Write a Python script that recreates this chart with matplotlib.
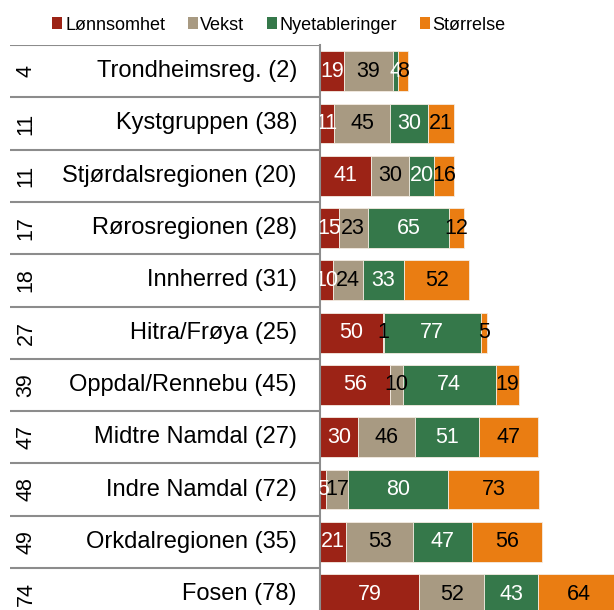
import matplotlib.pyplot as plt
from matplotlib.patches import Patch

regions = ['Trondheimsreg. (2)', 'Kystgruppen (38)', 'Stjørdalsregionen (20)',
           'Rørosregionen (28)', 'Innherred (31)', 'Hitra/Frøya (25)',
           'Oppdal/Rennebu (45)', 'Midtre Namdal (27)', 'Indre Namdal (72)',
           'Orkdalregionen (35)', 'Fosen (78)']
ranks = [4, 11, 11, 17, 18, 27, 39, 47, 48, 49, 74]
lonnsomhet = [19, 11, 41, 15, 10, 50, 56, 30, 5, 21, 79]
vekst = [39, 45, 30, 23, 24, 1, 10, 46, 17, 53, 52]
nyetableringer = [4, 30, 20, 65, 33, 77, 74, 51, 80, 47, 43]
storrelse = [8, 21, 16, 12, 52, 5, 19, 47, 73, 56, 64]

series = ['Lønnsomhet', 'Vekst', 'Nyetableringer', 'Størrelse']
colors = ['#9c2316', '#a89a82', '#35784a', '#ea7d12']
text_colors = ['white', 'black', 'white', 'black']

plt.rcParams['font.family'] = ['Liberation Sans', 'DejaVu Sans']

W, H = 614, 610
fig = plt.figure(figsize=(W / 100, H / 100), dpi=100)

# rows are 52.3 px tall, first row starts 45 px from the top
row_h = 52.3
top = 45
n = len(regions)
bottom = top + n * row_h
ax_bottom = 1 - bottom / H
ax_height = n * row_h / H

ax = fig.add_axes([320 / W, ax_bottom, (W - 320) / W, ax_height])
tab = fig.add_axes([10 / W, ax_bottom, 310 / W, ax_height])

y = list(range(n))
left = [0] * n
for vals, col, tcol in zip([lonnsomhet, vekst, nyetableringer, storrelse], colors, text_colors):
    ax.barh(y, vals, left=left, height=0.76, color=col, edgecolor='#f4ece2', linewidth=0.6)
    for i, v in enumerate(vals):
        ax.text(left[i] + v / 2, i, str(v), ha='center', va='center',
                color=tcol, fontsize=15.5, clip_on=True)
    left = [a + b for a, b in zip(left, vals)]

ax.set_xlim(0, (W - 321) / 1.25)
ax.set_ylim(n - 0.5, -0.5)
ax.set_xticks([])
ax.set_yticks([])
for s in ['top', 'right', 'bottom']:
    ax.spines[s].set_visible(False)
ax.spines['left'].set_color('#8c8c8c')
ax.spines['left'].set_linewidth(1.5)

# table with rank and region name to the left of the bars
tab.set_xlim(0, 310)
tab.set_ylim(n - 0.5, -0.5)
tab.axis('off')
for b in range(n):
    tab.axhline(b - 0.5, color='#8c8c8c', linewidth=1.5)
for i in range(n):
    tab.text(16, i, str(ranks[i]), rotation=90, ha='center', va='center', fontsize=15.5)
    tab.text(287, i, regions[i], ha='right', va='center', fontsize=17)

handles = [Patch(facecolor=c, edgecolor='none') for c in colors]
fig.legend(handles, series, loc='center', bbox_to_anchor=(279 / W, 1 - 25 / H),
           ncol=4, frameon=False, fontsize=13, handlelength=0.55, handleheight=0.6,
           handletextpad=0.15, columnspacing=1.25)

fig.savefig('out.png', dpi=100)
